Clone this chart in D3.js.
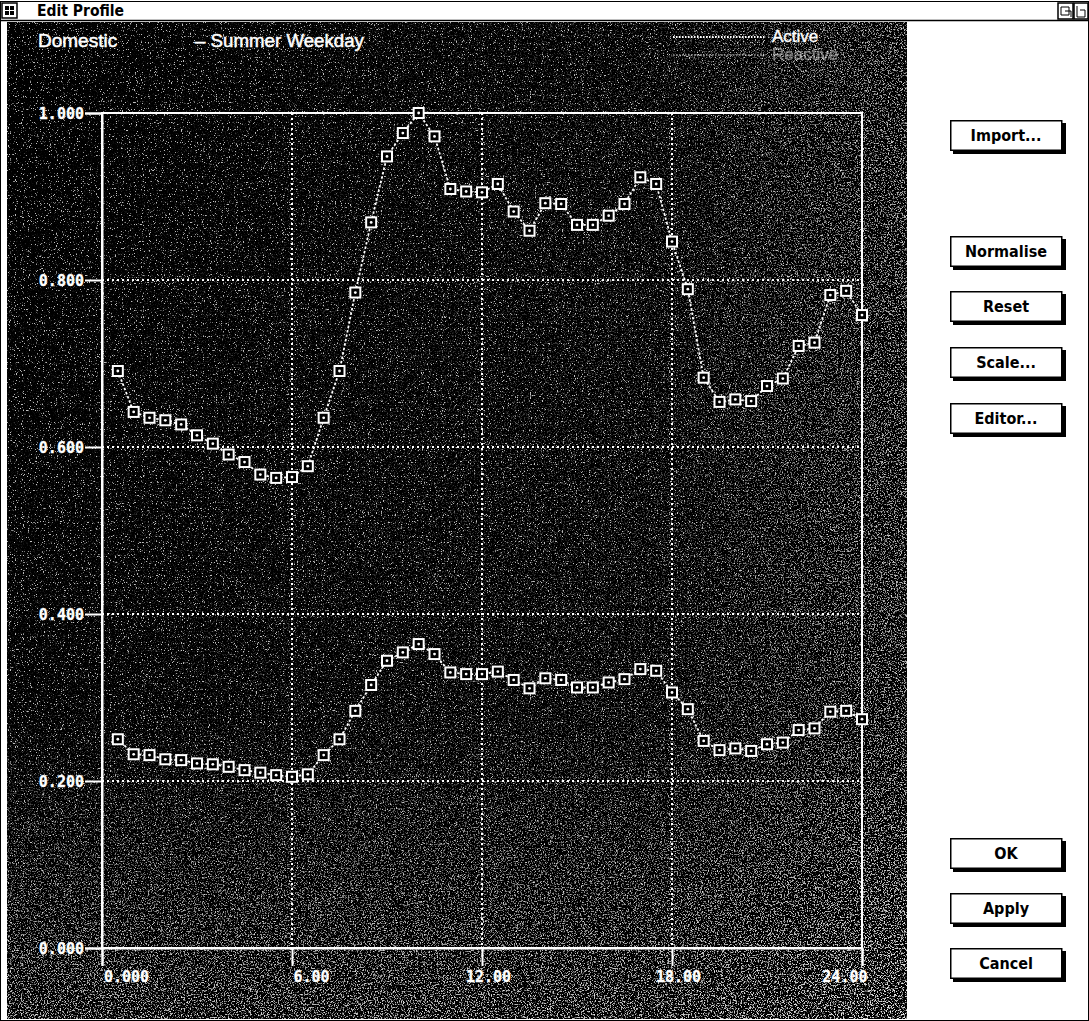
<!DOCTYPE html>
<html><head><meta charset="utf-8">
<script src="https://cdn.jsdelivr.net/npm/d3@7"></script>
<style>
html,body{margin:0;padding:0;background:#fff;}
svg{display:block;}
</style></head>
<body>
<svg id="c" width="1089" height="1021"></svg>
<script>
// ---- data ----
const hours = [0.5,1,1.5,2,2.5,3,3.5,4,4.5,5,5.5,6,6.5,7,7.5,8,8.5,9,9.5,10,10.5,11,11.5,12,
  12.5,13,13.5,14,14.5,15,15.5,16,16.5,17,17.5,18,18.5,19,19.5,20,20.5,21,21.5,22,22.5,23,23.5,24];
const activeValues = [0.691,0.642,0.635,0.632,0.627,0.614,0.604,0.591,0.582,0.567,0.563,0.564,
  0.577,0.635,0.691,0.785,0.869,0.948,0.976,1.000,0.972,0.909,0.906,0.905,
  0.915,0.882,0.859,0.892,0.891,0.866,0.866,0.877,0.891,0.923,0.915,0.846,
  0.789,0.683,0.654,0.657,0.655,0.673,0.682,0.721,0.725,0.782,0.787,0.758];
const reactiveValues = [0.250,0.232,0.231,0.226,0.225,0.221,0.220,0.217,0.213,0.210,0.207,0.205,
  0.208,0.231,0.250,0.284,0.315,0.344,0.354,0.364,0.352,0.330,0.328,0.328,
  0.331,0.321,0.311,0.323,0.321,0.312,0.312,0.318,0.322,0.334,0.332,0.306,
  0.286,0.248,0.237,0.239,0.236,0.244,0.246,0.261,0.263,0.283,0.284,0.274];
const xTicks = [0,6,12,18,24];
const xTickLabels = ["0.000","6.00","12.00","18.00","24.00"];
const yTicks = [0,0.2,0.4,0.6,0.8,1.0];
const yTickLabels = ["0.000","0.200","0.400","0.600","0.800","1.000"];
const seriesNames = ["Active","Reactive"];
const buttonsTop = ["Import...","Normalise","Reset","Scale...","Editor..."];
const buttonsBottom = ["OK","Apply","Cancel"];

const svg = d3.select("#c");
const defs = svg.append("defs");

// speckle filter (scan texture)
function speckle(id, freq, thr, seed){
  const f = defs.append("filter").attr("id",id).attr("x",0).attr("y",0).attr("width",1).attr("height",1);
  f.append("feTurbulence").attr("type","fractalNoise").attr("baseFrequency",freq).attr("numOctaves",2).attr("seed",seed).attr("result","n");
  f.append("feColorMatrix").attr("in","n").attr("type","matrix")
   .attr("values",`0 0 0 0 1  0 0 0 0 1  0 0 0 0 1  ${thr[0]} 0 0 0 ${thr[1]}`).attr("result","a");
  f.append("feComposite").attr("in","a").attr("in2","SourceGraphic").attr("operator","in");
}
speckle("spk1","0.85",[9,-5.7],3);
speckle("spk2","0.7",[9,-4.9],7);
const grad = defs.append("linearGradient").attr("id","rg").attr("x1",0).attr("x2",1).attr("y1",0).attr("y2",0);
grad.append("stop").attr("offset","0").attr("stop-color","#fff").attr("stop-opacity",0);
grad.append("stop").attr("offset","0.6").attr("stop-color","#fff").attr("stop-opacity",0.2);
grad.append("stop").attr("offset","1").attr("stop-color","#fff").attr("stop-opacity",1);
const mask = defs.append("mask").attr("id","rm");
mask.append("rect").attr("x",0).attr("y",0).attr("width",1089).attr("height",1021).attr("fill","url(#rg)");
const gradB = defs.append("linearGradient").attr("id","bg").attr("x1",0).attr("x2",0).attr("y1",0).attr("y2",1);
gradB.append("stop").attr("offset","0").attr("stop-color","#fff").attr("stop-opacity",0);
gradB.append("stop").attr("offset","0.7").attr("stop-color","#fff").attr("stop-opacity",0.1);
gradB.append("stop").attr("offset","1").attr("stop-color","#fff").attr("stop-opacity",0.8);
const maskB = defs.append("mask").attr("id","bm");
maskB.append("rect").attr("x",0).attr("y",0).attr("width",1089).attr("height",1021).attr("fill","url(#bg)");

// ---- window frame ----
svg.append("rect").attr("x",0.5).attr("y",1.5).attr("width",1088).attr("height",1019).attr("fill","#fff").attr("stroke","#000");
svg.append("line").attr("x1",0).attr("x2",1089).attr("y1",20.5).attr("y2",20.5).attr("stroke","#000").attr("stroke-width",1.5);
const ic = svg.append("g").attr("transform","translate(2,3)");
ic.append("rect").attr("width",15).attr("height",15).attr("fill","#fff").attr("stroke","#000").attr("stroke-width",1.5);
[[3,3],[8,3],[3,8],[8,8]].forEach(p=>ic.append("rect").attr("x",p[0]).attr("y",p[1]).attr("width",4).attr("height",4).attr("fill","#000"));
svg.append("text").attr("x",37).attr("y",16).attr("font-family","'DejaVu Sans Condensed','DejaVu Sans',sans-serif")
  .attr("font-weight","bold").attr("font-size",15.5).text("Edit Profile");
const ri = svg.append("g").attr("transform","translate(1058,3)");
ri.append("rect").attr("width",15).attr("height",16).attr("fill","#fff").attr("stroke","#000").attr("stroke-width",1.5);
ri.append("path").attr("d","M3,4 H11 V12 H3 Z M7,8 H13 V14").attr("fill","none").attr("stroke","#000");
ri.append("rect").attr("x",16).attr("width",14).attr("height",16).attr("fill","#fff").attr("stroke","#000").attr("stroke-width",1.5);
ri.append("path").attr("d","M19,3 V14 H27 V7 H22").attr("fill","none").attr("stroke","#000");

// ---- dark panel ----
const panel = {x:7, y:22, w:900, h:997};
svg.append("rect").attr("x",panel.x).attr("y",panel.y).attr("width",panel.w).attr("height",panel.h).attr("fill","#000");
svg.append("rect").attr("x",panel.x).attr("y",panel.y).attr("width",panel.w).attr("height",panel.h).attr("fill","#fff").attr("filter","url(#spk1)").attr("opacity",0.75);
svg.append("g").attr("mask","url(#rm)").append("rect").attr("x",panel.x).attr("y",panel.y).attr("width",panel.w).attr("height",panel.h).attr("fill","#fff").attr("filter","url(#spk2)").attr("opacity",0.95);
svg.append("g").attr("mask","url(#bm)").append("rect").attr("x",panel.x).attr("y",panel.y).attr("width",panel.w).attr("height",panel.h).attr("fill","#fff").attr("filter","url(#spk2)").attr("opacity",0.9);

// ---- scales ----
const x = d3.scaleLinear().domain([0,24]).range([102,862]);
const y = d3.scaleLinear().domain([0,1]).range([948,113]);

// grid (dotted)
const gridG = svg.append("g").attr("stroke","#fff").attr("stroke-width",2).attr("stroke-dasharray","2,3");
gridG.selectAll("line.vx").data(xTicks.slice(1,-1)).join("line")
  .attr("x1",d=>x(d)).attr("x2",d=>x(d)).attr("y1",y(1)).attr("y2",y(0));
gridG.selectAll("line.hy").data(yTicks.slice(1,-1)).join("line")
  .attr("x1",x(0)).attr("x2",x(24)).attr("y1",d=>y(d)).attr("y2",d=>y(d));

// frame
svg.append("rect").attr("x",x(0)).attr("y",y(1)).attr("width",x(24)-x(0)).attr("height",y(0)-y(1))
  .attr("fill","none").attr("stroke","#fff").attr("stroke-width",2);

// axes
const monoFont = "'DejaVu Sans Mono',monospace";
const yAxis = d3.axisLeft(y).tickValues(yTicks).tickSize(17).tickPadding(1).tickFormat((d,i)=>yTickLabels[i]);
const ya = svg.append("g").attr("transform",`translate(${x(0)},0)`).call(yAxis);
const xAxis = d3.axisBottom(x).tickValues(xTicks).tickSize(18).tickPadding(2).tickFormat((d,i)=>xTickLabels[i]);
const xa = svg.append("g").attr("transform",`translate(0,${y(0)})`).call(xAxis);
[ya,xa].forEach(g=>{
  g.select(".domain").attr("stroke","#fff").attr("stroke-width",2);
  g.selectAll(".tick line").attr("stroke","#fff").attr("stroke-width",2);
  g.selectAll(".tick text").attr("fill","#fff").attr("font-family",monoFont).attr("font-weight","bold")
    .attr("font-size",15).attr("stroke","#fff").attr("stroke-width",0.3);
});
ya.selectAll(".tick text").attr("dy","0.35em");
const xOff = [["middle",24],["start",1],["middle",6],["middle",6],["end",5]];
xa.selectAll(".tick text").attr("text-anchor",(d,i)=>xOff[i][0]).attr("dx",(d,i)=>xOff[i][1]).attr("dy","0.9em");

// header text
const sansFont = "'Liberation Sans',Arial,sans-serif";
svg.append("text").attr("x",38).attr("y",47).attr("fill","#fff").attr("stroke","#fff").attr("stroke-width",0.5)
  .attr("font-family",sansFont).attr("font-size",19).text("Domestic");
svg.append("text").attr("x",195).attr("y",47).attr("fill","#fff").attr("stroke","#fff").attr("stroke-width",0.5)
  .attr("font-family",sansFont).attr("font-size",18.7).text("\u2013 Summer Weekday");

// legend
const leg = svg.append("g");
seriesNames.forEach((n,i)=>{
  const yy = 37 + i*18;
  const op = i===0 ? 1 : 0.45;
  leg.append("line").attr("x1",673).attr("x2",765).attr("y1",yy).attr("y2",yy)
    .attr("stroke","#fff").attr("stroke-width",2).attr("stroke-dasharray","1.5,1.5").attr("opacity",op);
  leg.append("text").attr("x",772).attr("y",yy+5).attr("fill","#fff").attr("opacity",op)
    .attr("stroke","#fff").attr("stroke-width",0.4)
    .attr("font-family",sansFont).attr("font-size",17).text(n);
});

// series
const line = d3.line().x(d=>x(d[0])).y(d=>y(d[1]));
[activeValues, reactiveValues].forEach(vals=>{
  const pts = hours.map((h,i)=>[h,vals[i]]);
  svg.append("path").datum(pts).attr("d",line).attr("fill","none").attr("stroke","#fff")
    .attr("stroke-width",1.8).attr("stroke-dasharray","2.5,2");
  const g = svg.append("g");
  g.selectAll("rect").data(pts).join("rect")
    .attr("x",d=>x(d[0])-5).attr("y",d=>y(d[1])-5).attr("width",10).attr("height",10)
    .attr("fill","#000").attr("stroke","#fff").attr("stroke-width",2);
  g.selectAll("circle").data(pts).join("circle")
    .attr("cx",d=>x(d[0])).attr("cy",d=>y(d[1])).attr("r",1.4).attr("fill","#fff");
});

// ---- buttons ----
function button(label, top){
  const g = svg.append("g").attr("transform",`translate(950,${top})`);
  g.append("rect").attr("x",3).attr("y",3).attr("width",113).attr("height",31).attr("fill","#000");
  g.append("rect").attr("x",0.75).attr("y",0.75).attr("width",111).attr("height",29.5).attr("fill","#fff").attr("stroke","#000").attr("stroke-width",1.5);
  g.append("text").attr("x",56).attr("y",21).attr("text-anchor","middle")
    .attr("font-family","'DejaVu Sans Condensed','DejaVu Sans',sans-serif").attr("font-weight","bold").attr("font-size",16).text(label);
}
const topY = [120,236,291,347,403];
buttonsTop.forEach((b,i)=>button(b, topY[i]));
const botY = [838,893,948];
buttonsBottom.forEach((b,i)=>button(b, botY[i]));
</script>
</body></html>
